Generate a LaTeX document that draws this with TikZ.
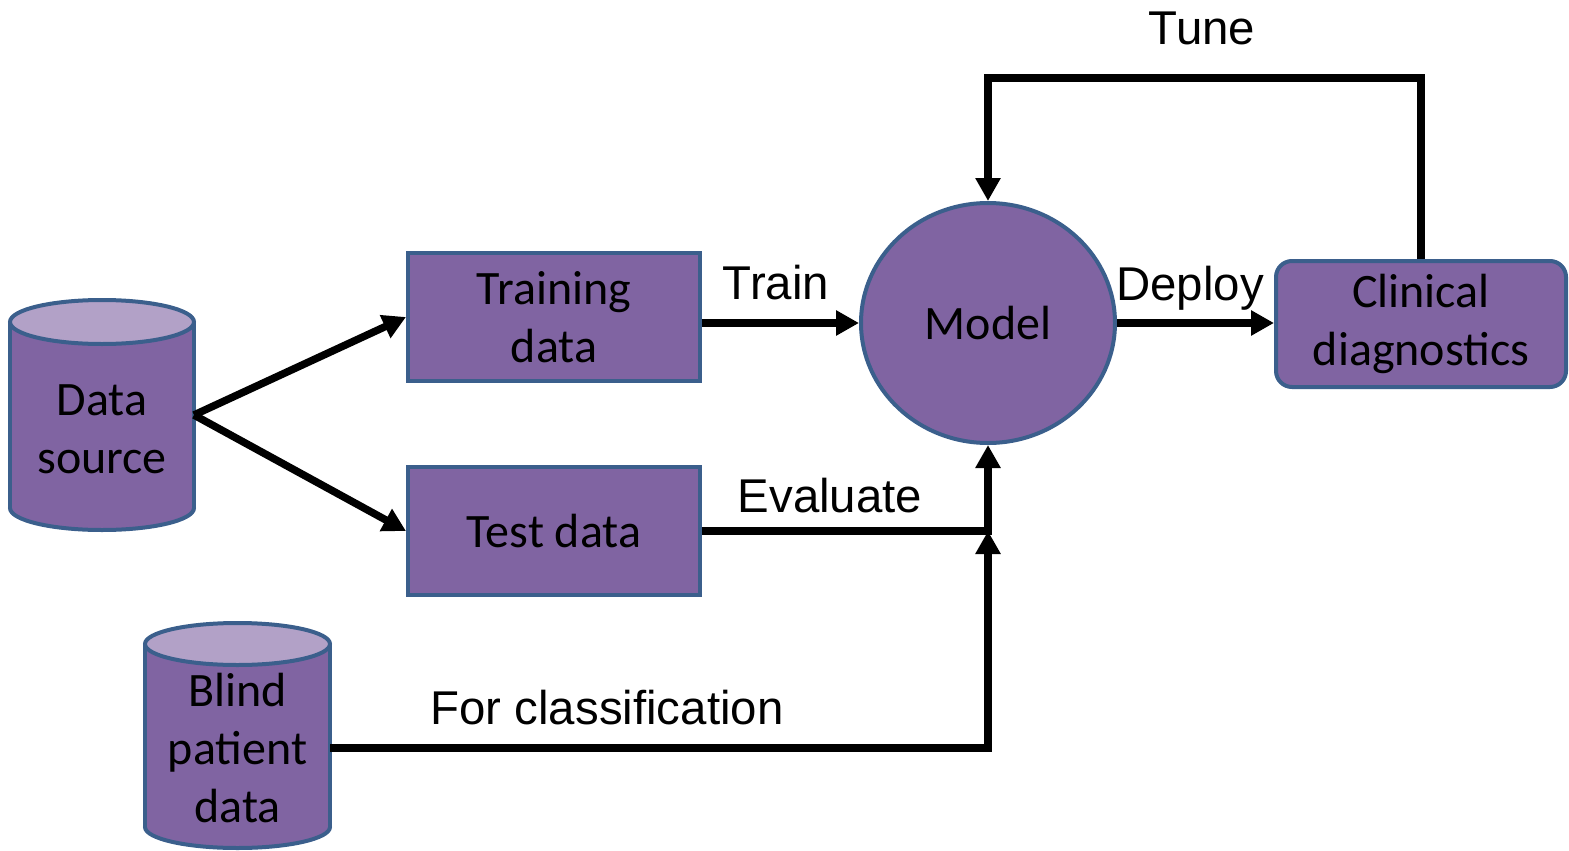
\documentclass[tikz,border=0pt]{standalone}
\usepackage{fontspec}
\setmainfont{Carlito}
\newfontfamily\labelfont{Liberation Sans}
\usetikzlibrary{arrows.meta,shapes.geometric}
\definecolor{boxfill}{HTML}{8064A2}
\definecolor{topfill}{HTML}{B2A1C7}
\definecolor{edgeblue}{HTML}{3B5F8C}
\begin{document}
\begin{tikzpicture}[x=0.5pt,y=-0.5pt,
  boxtext/.style={font=\fontsize{24}{29}\selectfont,align=center},
  box/.style={boxtext,draw=edgeblue,fill=boxfill,line width=2pt,inner sep=0pt},
  flow/.style={line width=3.75pt,-{Triangle[length=11.5pt,width=12pt]}},
  lbl/.style={font=\labelfont\fontsize{23.7}{28}\selectfont,anchor=base,inner sep=0pt},
  cylbody/.style={fill=boxfill,draw=edgeblue,line width=2pt},
  cyltop/.style={fill=topfill,draw=edgeblue,line width=2pt}]
\useasboundingbox (0,0) rectangle (1569,851);

% Data source cylinder
\path[cylbody] (102,508) ellipse [x radius=46pt, y radius=11pt];
\fill[boxfill] (10,322) rectangle (194,508);
\draw[edgeblue,line width=2pt] (10,322) -- (10,508) (194,322) -- (194,508);
\path[cyltop] (102,322) ellipse [x radius=46pt, y radius=11pt];
\node[boxtext,inner sep=0pt] (ds) at (102,429) {Data\\source};
\coordinate (dsout) at (194,415);

% Blind patient data cylinder
\path[cylbody] (237.5,827) ellipse [x radius=46.25pt, y radius=10.5pt];
\fill[boxfill] (145,644) rectangle (330,827);
\draw[edgeblue,line width=2pt] (145,644) -- (145,827) (330,644) -- (330,827);
\path[cyltop] (237.5,644) ellipse [x radius=46.25pt, y radius=10.5pt];
\node[boxtext,inner sep=0pt,minimum width=92.5pt] (bpd) at (237.5,748) {Blind\\patient\\data};

% Boxes
\node[box,minimum width=146pt,minimum height=64pt] (train) at (554,317) {Training\\data};
\node[box,minimum width=146pt,minimum height=64pt] (test) at (554,531) {Test data};
\node[box,ellipse,minimum width=127pt,minimum height=120pt] (model) at (988,323) {Model};
\node[box,rounded corners=8pt,minimum width=145pt,minimum height=63pt] (clin) at (1421,324) {Clinical\\diagnostics};

% Connectors
\draw[flow] (dsout) -- (train.west);
\draw[flow] (dsout) -- (test.west);
\draw[flow] (train.east |- model.west) -- (model.west);
\draw[flow] (model.east) -- (model.east -| clin.west);
\draw[flow] (test.east) -| (model.south);
\coordinate (join) at (test.east -| model.south);
\draw[flow] (bpd.east) -| (join);
\coordinate (tunetop) at (1421,78);
\draw[flow] (clin.north) -- (tunetop) -| (model.north);

% Labels
\node[lbl] (ltrain) at (776,299) {Train};
\node[lbl] (ldeploy) at (1190,300) {Deploy};
\node[lbl] (leval) at (830,512) {Evaluate};
\node[lbl] (lclass) at (607,724) {For classification};
\node[lbl] (ltune) at (1202,44) {Tune};
\end{tikzpicture}
\end{document}
